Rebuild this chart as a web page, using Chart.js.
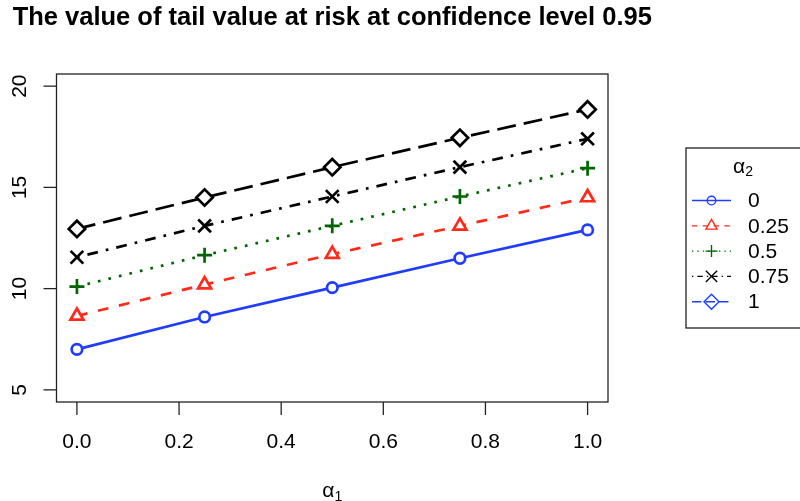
<!DOCTYPE html>
<html>
<head>
<meta charset="utf-8">
<script src="https://cdn.jsdelivr.net/npm/chart.js@4/dist/chart.umd.min.js"></script>
<style>
  html, body { margin: 0; padding: 0; background: #ffffff; }
  canvas { display: block; }
</style>
</head>
<body>
<canvas id="c" width="800" height="501"></canvas>
<script>
// alpha_1 grid and tail value at risk for each alpha_2 level
const alpha1 = [0, 0.25, 0.5, 0.75, 1];
const alpha2Levels = ['0', '0.25', '0.5', '0.75', '1'];
const tvarA2_0   = [7.0, 8.6, 10.05, 11.5, 12.9];
const tvarA2_025 = [8.65, 10.2, 11.7, 13.1, 14.5];
const tvarA2_05  = [10.1, 11.65, 13.1, 14.55, 15.95];
const tvarA2_075 = [11.55, 13.1, 14.55, 16.0, 17.4];
const tvarA2_1   = [12.95, 14.5, 16.0, 17.45, 18.85];
const xTicks = [0, 0.2, 0.4, 0.6, 0.8, 1.0];
const yTicks = [5, 10, 15, 20];

const titleText = 'The value of tail value at risk at confidence level 0.95';
const FAMILY = '"Liberation Sans", Arial, Helvetica, sans-serif';
const LABEL_PX = 21;

const seriesValues = [tvarA2_0, tvarA2_025, tvarA2_05, tvarA2_075, tvarA2_1];
const seriesColors = ['#1f3cff', '#ff2a1a', '#006400', '#000000', '#000000'];
// legend recycles a four-colour palette
const legendColors = ['#1f3cff', '#ff2a1a', '#006400', '#000000', '#1f3cff'];
const pointStyles = ['circle', 'triangle', 'cross', 'crossRot', 'rectRot'];
const pointRadii = [5.3, 7.5, 7.5, 9, 8.2];
// dash units (R lty codes), scaled by line width
const dashUnits = [[], [4, 4], [1, 3], [1, 3, 4, 3], [7, 3]];
const LW = 2.7, LEG_LW = 1.35;

const datasets = seriesValues.map((vals, i) => ({
  label: alpha2Levels[i],
  data: alpha1.map((x, j) => ({ x: x, y: vals[j] })),
  borderColor: seriesColors[i],
  borderWidth: LW,
  borderDash: dashUnits[i].map(u => u * LW),
  borderCapStyle: 'butt',
  tension: 0,
  fill: false,
  pointStyle: pointStyles[i],
  pointRadius: pointRadii[i],
  pointHoverRadius: pointRadii[i],
  pointBorderWidth: LW,
  pointBorderColor: seriesColors[i],
  pointBackgroundColor: '#ffffff'
}));

function drawMarker(ctx, style, r, x, y, color, lw) {
  ctx.save();
  ctx.strokeStyle = color;
  ctx.lineWidth = lw;
  ctx.setLineDash([]);
  ctx.beginPath();
  if (style === 'circle') {
    ctx.arc(x, y, r, 0, Math.PI * 2);
  } else if (style === 'triangle') {
    for (let k = 0; k < 3; k++) {
      const a = k * 2 * Math.PI / 3;
      const px = x + Math.sin(a) * r, py = y - Math.cos(a) * r;
      if (k === 0) ctx.moveTo(px, py); else ctx.lineTo(px, py);
    }
    ctx.closePath();
  } else if (style === 'cross') {
    ctx.moveTo(x - r, y); ctx.lineTo(x + r, y);
    ctx.moveTo(x, y - r); ctx.lineTo(x, y + r);
  } else if (style === 'crossRot') {
    const d = r * Math.SQRT1_2;
    ctx.moveTo(x - d, y - d); ctx.lineTo(x + d, y + d);
    ctx.moveTo(x - d, y + d); ctx.lineTo(x + d, y - d);
  } else if (style === 'rectRot') {
    ctx.moveTo(x, y - r); ctx.lineTo(x + r, y); ctx.lineTo(x, y + r); ctx.lineTo(x - r, y);
    ctx.closePath();
  }
  ctx.stroke();
  ctx.restore();
}

const framePlugin = {
  id: 'frame',
  afterDraw(chart) {
    const ctx = chart.ctx;
    const { left, right, top, bottom } = chart.chartArea;
    const xs = chart.scales.x, ys = chart.scales.y;
    const labelFont = LABEL_PX + 'px ' + FAMILY;
    ctx.save();
    ctx.fillStyle = '#000';
    ctx.strokeStyle = '#222';
    ctx.lineWidth = 1.3;
    ctx.setLineDash([]);

    // plot frame
    ctx.strokeRect(left, top, right - left, bottom - top);

    // x axis ticks and labels
    ctx.font = labelFont;
    ctx.textAlign = 'center';
    ctx.textBaseline = 'alphabetic';
    xTicks.forEach(v => {
      const px = xs.getPixelForValue(v);
      ctx.beginPath(); ctx.moveTo(px, bottom); ctx.lineTo(px, bottom + 13); ctx.stroke();
      ctx.fillText(v.toFixed(1), px, 448);
    });

    // y axis ticks and labels (rotated)
    yTicks.forEach(v => {
      const py = ys.getPixelForValue(v);
      ctx.beginPath(); ctx.moveTo(left - 13, py); ctx.lineTo(left, py); ctx.stroke();
      ctx.save();
      ctx.translate(26, py);
      ctx.rotate(-Math.PI / 2);
      ctx.fillText(String(v), 0, 0);
      ctx.restore();
    });

    // title
    ctx.font = 'bold 25.5px ' + FAMILY;
    ctx.textAlign = 'center';
    ctx.fillText(titleText, (left + right) / 2, 25);

    // x axis label: alpha with subscript 1
    ctx.textAlign = 'left';
    ctx.font = labelFont;
    const wa = ctx.measureText('\u03B1').width;
    ctx.font = '14px ' + FAMILY;
    const w1 = ctx.measureText('1').width;
    const x0 = (left + right) / 2 - (wa + w1) / 2;
    ctx.font = labelFont;
    ctx.fillText('\u03B1', x0, 497);
    ctx.font = '14px ' + FAMILY;
    ctx.fillText('1', x0 + wa, 501);

    // legend
    const lx = 686, ly = 148, lw = 120, lh = 180;
    ctx.strokeRect(lx, ly, lw, lh);
    ctx.font = labelFont;
    const wa2 = ctx.measureText('\u03B1').width;
    ctx.font = '14px ' + FAMILY;
    const w2 = ctx.measureText('2').width;
    const tx = 743 - (wa2 + w2) / 2;
    ctx.font = labelFont;
    ctx.fillText('\u03B1', tx, 173);
    ctx.font = '14px ' + FAMILY;
    ctx.fillText('2', tx + wa2, 176);

    const legRadii = [4.3, 6.5, 6, 8, 7.5];
    alpha2Levels.forEach((lab, i) => {
      const y = 200.5 + i * 25.3;
      ctx.save();
      ctx.strokeStyle = legendColors[i];
      ctx.lineWidth = LEG_LW;
      ctx.lineCap = 'butt';
      ctx.setLineDash(dashUnits[i].map(u => u * LEG_LW));
      ctx.beginPath(); ctx.moveTo(692, y); ctx.lineTo(731, y); ctx.stroke();
      ctx.restore();
      drawMarker(ctx, pointStyles[i], legRadii[i], 711.5, y, legendColors[i], LEG_LW);
      ctx.fillStyle = '#000';
      ctx.font = labelFont;
      ctx.textAlign = 'left';
      ctx.textBaseline = 'middle';
      ctx.fillText(lab, 748, y + 1);
      ctx.textBaseline = 'alphabetic';
    });
    ctx.restore();
  }
};

new Chart(document.getElementById('c'), {
  type: 'line',
  data: { datasets: datasets },
  options: {
    responsive: false,
    devicePixelRatio: 1,
    animation: false,
    events: [],
    layout: { padding: { left: 56.5, right: 192, top: 74, bottom: 99 } },
    scales: {
      x: { type: 'linear', min: -0.04, max: 1.04, display: false },
      y: { type: 'linear', min: 4.4, max: 20.6, display: false }
    },
    plugins: {
      legend: { display: false },
      tooltip: { enabled: false },
      title: { display: false }
    }
  },
  plugins: [framePlugin]
});
</script>
</body>
</html>
